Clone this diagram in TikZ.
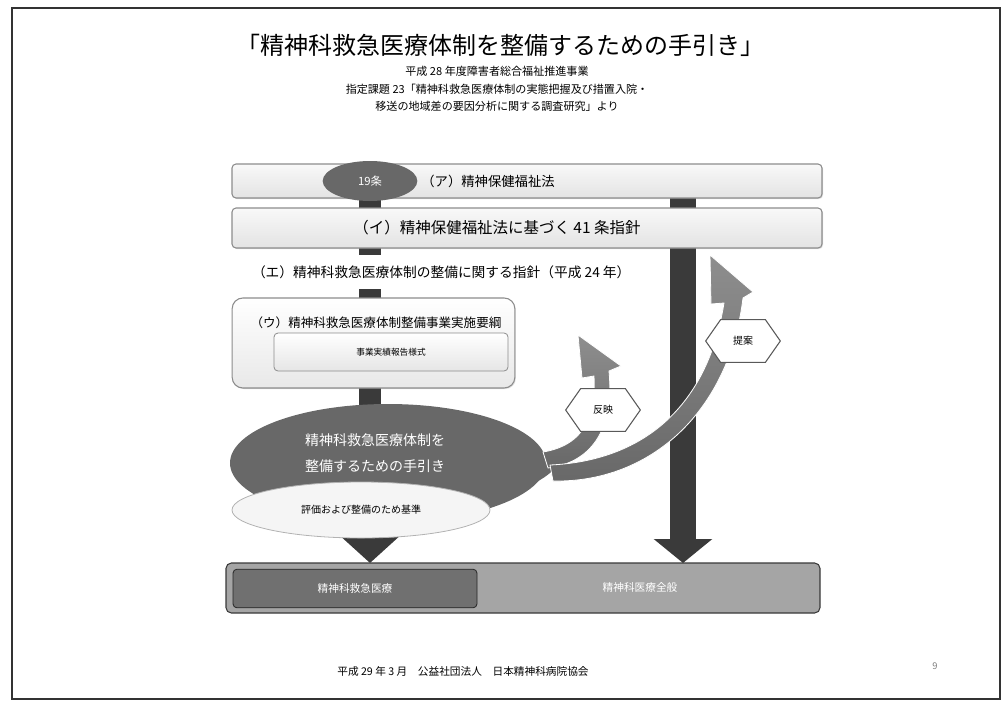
\documentclass[tikz,border=0pt]{standalone}
\usepackage{fontspec}
\setmainfont{Noto Sans CJK JP}
\usetikzlibrary{arrows.meta,shapes.geometric,shapes.symbols,shadows}
\pgfdeclarelayer{bg}
\pgfsetlayers{bg,main}
\definecolor{barc}{HTML}{3A3A3A}
\definecolor{boxline}{HTML}{8C8C8C}
\definecolor{darkell}{HTML}{686868}
\definecolor{arrowtop}{HTML}{8E8E8E}
\definecolor{botouter}{HTML}{A5A5A5}
\definecolor{botinner}{HTML}{707070}
\begin{document}
\begin{tikzpicture}[x=0.75pt,y=-0.75pt,
  every node/.style={inner sep=0pt, outer sep=0pt},
  lawbox/.style={draw=boxline, line width=0.8pt, rounded corners=3pt, top color=gray!5, bottom color=gray!22, minimum width=442.5pt, drop shadow={opacity=0.25,shadow xshift=0.8pt,shadow yshift=-0.8pt}},
  bar/.style={draw=barc, line width=16pt},
  curvarr/.style={top color=arrowtop, bottom color=darkell, draw=white, line width=0.6pt},
  hexa/.style={signal, signal to=west and east, signal pointer angle=110, draw=gray!70!black, line width=0.8pt, fill=white, minimum width=56pt, minimum height=32pt, font=\fontsize{7.5}{8}\selectfont},
  small/.style={font=\fontsize{8.3}{13.2}\selectfont}
]
\useasboundingbox (0,0) rectangle (1003,704);
\draw[line width=1.5pt, black!80] (12,8) rectangle (1000,699);
\coordinate (lx) at (370,0);
\coordinate (rx) at (683,0);

% titles
\node[font=\fontsize{18}{20}\selectfont] (title) at (500,45) {「精神科救急医療体制を整備するための手引き」};
\node[small, align=center] (sub) at (497,89) {平成 28 年度障害者総合福祉推進事業\\指定課題 23「精神科救急医療体制の実態把握及び措置入院・\\移送の地域差の要因分析に関する調査研究」より};

% law boxes
\node[lawbox, minimum height=25.5pt] (a) at (527,181) {};
\node[lawbox, minimum height=30pt] (i) at (527,228) {};
\node[ellipse, fill=darkell, minimum width=71pt, minimum height=30pt, text=white, font=\fontsize{8.5}{10}\selectfont] (o19) at (370,181) {19条};
\node[font=\fontsize{10}{12}\selectfont] (ta) at (488,181) {（ア）精神保健福祉法};
\node[font=\fontsize{11.6}{13}\selectfont] (ti) at (497,228) {（イ）精神保健福祉法に基づく 41 条指針};

% (エ)
\node[fill=white, minimum height=25pt, anchor=west, font=\fontsize{10.3}{12}\selectfont] (te) at (252,272) {（エ）精神科救急医療体制の整備に関する指針（平成 24 年）};

% (ウ)
\node[draw=boxline, line width=0.8pt, rounded corners=8pt, top color=white, bottom color=gray!18, minimum width=212pt, minimum height=67.5pt, drop shadow={opacity=0.25,shadow xshift=0.8pt,shadow yshift=-0.8pt}] (u) at (373.5,343) {};
\node[font=\fontsize{9.4}{11}\selectfont] (tu) at (376,323) {（ウ）精神科救急医療体制整備事業実施要綱};
\node[draw=boxline, line width=0.6pt, rounded corners=3pt, top color=white, bottom color=gray!20, minimum width=175.5pt, minimum height=28.5pt, font=\fontsize{6.5}{8}\selectfont] (rep) at (391,352) {事業実績報告様式};

% guide ellipse
\node[ellipse, fill=darkell, minimum width=237pt, minimum height=88.5pt] (de) at (388,463) {};
\fill[darkell] (520,440) .. controls (540,455) .. (562,462) .. controls (545,478) .. (520,490) -- cycle;
\node[text=white, align=center, font=\fontsize{10.5}{20}\selectfont] (tde) at (375,453) {精神科救急医療体制を\\整備するための手引き};
\node[ellipse, draw=gray!60, line width=0.6pt, fill=gray!8, minimum width=193.5pt, minimum height=42pt, font=\fontsize{7.5}{9}\selectfont] (le) at (361,510) {評価および整備のため基準};

% bottom bar
\node[draw=gray!45!black, line width=0.8pt, rounded corners=4pt, fill=botouter, minimum width=445.5pt, minimum height=37.5pt] (bot) at (523,588) {};
\node[draw=gray!30!black, line width=0.6pt, rounded corners=3pt, fill=botinner, minimum width=183pt, minimum height=29pt, text=white, font=\fontsize{8}{10}\selectfont] (bi) at (355,588.5) {精神科救急医療};
\node[text=white, font=\fontsize{8}{10}\selectfont] (ball) at (640,587) {精神科医療全般};

% curved arrows
\path[curvarr] (543,452) .. controls (585,445) and (596,415) .. (594,376) -- (582,378) -- (578,335) -- (621,366) -- (609,371) .. controls (614,425) and (595,462) .. (548,468) -- cycle;
\path[curvarr] (550,465) .. controls (640,461) and (707,410) .. (724,303) -- (711,304) -- (710,255) -- (753,292) -- (743,298) .. controls (729,412) and (650,483) .. (553,481) -- cycle;

\node[hexa] (h1) at (603,410) {反映};
\node[hexa] (h2) at (743,341) {提案};

% footer
\node[font=\fontsize{8}{9}\selectfont] (foot) at (463,671) {平成 29 年 3 月　公益社団法人　日本精神科病院協会};
\node[font=\fontsize{7}{9}\selectfont, text=gray] (pg) at (935,666) {9};

% connectors
\begin{pgfonlayer}{bg}
\draw[bar] (o19.center) -- (i.north -| o19.center);
\draw[bar, line width=20pt] (a.center -| rx) -- (i.center -| rx);
\draw[barc, line width=20pt, -{Triangle[width=43pt,length=18pt]}] (i.center -| rx) -- (bot.north -| rx);
\draw[bar] (i.center -| lx) -- (u.center -| lx);
\draw[bar] (u.center -| lx) -- (de.center -| lx);
\draw[barc, line width=16pt, -{Triangle[width=45pt,length=21pt]}] (le.center -| lx) -- (bot.north -| lx);
\end{pgfonlayer}
\end{tikzpicture}
\end{document}
